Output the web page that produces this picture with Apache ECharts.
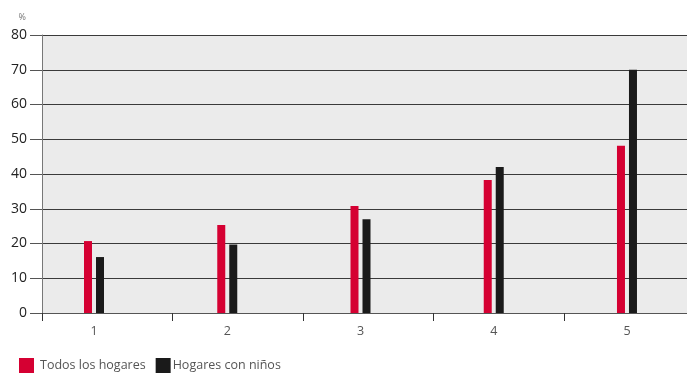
<!DOCTYPE html>
<html>
<head>
<meta charset="utf-8">
<script src="https://cdn.jsdelivr.net/npm/echarts@6/dist/echarts.min.js"></script>
<style>
  html, body { margin: 0; padding: 0; background: #fff; }
  #chart { width: 687px; height: 373px; }
</style>
</head>
<body>
<div id="chart"></div>
<script>
'use strict';

var categories = ['1', '2', '3', '4', '5'];
var todosHogares = [20.7, 25.3, 30.8, 38.3, 48.1];
var hogaresNinos = [16.1, 19.7, 27.0, 42.0, 70.0];
var seriesNames = ['Todos los hogares', 'Hogares con niños'];
var yTicks = { min: 0, max: 80, step: 10 };

var myChart = echarts.init(document.getElementById('chart'));
var font = '"Open Sans", "Noto Sans", sans-serif';

var option = {
  animation: false,
  textStyle: { fontFamily: font },
  legend: {
    left: 19,
    top: 358,
    padding: 0,
    itemWidth: 15,
    itemHeight: 15,
    itemGap: 10,
    icon: 'rect',
    textStyle: { fontSize: 12.5, color: '#555' },
    data: [
      { name: seriesNames[0], textStyle: { padding: [0, 0, 0, 1] } },
      { name: seriesNames[1], textStyle: { padding: [0, 0, 0, -3] } }
    ]
  },
  grid: [
    { left: 42, top: 35, right: -7.5, height: 278, show: true, backgroundColor: '#ebebeb', borderWidth: 0, outerBoundsMode: 'none', containLabel: false },
    { left: 27.4, top: 35, right: -6.6, height: 278, outerBoundsMode: 'none', containLabel: false }
  ],
  xAxis: [
    {
      gridIndex: 0,
      type: 'category',
      data: ['', '', '', '', ''],
      axisLine: { lineStyle: { color: '#555', width: 1 } },
      axisTick: { show: true, length: 8, lineStyle: { color: '#333' } },
      axisLabel: { show: false }
    },
    {
      gridIndex: 1,
      type: 'category',
      data: categories,
      axisLine: { show: false },
      axisTick: { show: false },
      axisLabel: { color: '#555', fontSize: 12.5, margin: 12 }
    }
  ],
  yAxis: [
    {
      gridIndex: 0,
      type: 'value',
      min: yTicks.min,
      max: yTicks.max,
      interval: yTicks.step,
      name: '%',
      nameLocation: 'end',
      nameGap: 13,
      nameTextStyle: { fontSize: 9, color: '#777', align: 'right', padding: [0, 16, 0, 0] },
      axisLine: { show: true, lineStyle: { color: '#777' } },
      axisTick: { show: true, length: 12, lineStyle: { color: '#555' } },
      axisLabel: { color: '#222', fontSize: 14, margin: 15 },
      splitLine: { lineStyle: { color: '#3a3a3a', width: 1 } }
    },
    {
      gridIndex: 1,
      type: 'value',
      min: yTicks.min,
      max: yTicks.max,
      show: false
    }
  ],
  series: [
    {
      name: seriesNames[0],
      type: 'bar',
      xAxisIndex: 1,
      yAxisIndex: 1,
      barWidth: 8,
      barGap: '50%',
      itemStyle: { color: '#d50032' },
      data: todosHogares
    },
    {
      name: seriesNames[1],
      type: 'bar',
      xAxisIndex: 1,
      yAxisIndex: 1,
      barWidth: 8,
      barGap: '50%',
      itemStyle: { color: '#1a1a1a' },
      data: hogaresNinos
    }
  ]
};
myChart.setOption(option);
</script>
</body>
</html>
